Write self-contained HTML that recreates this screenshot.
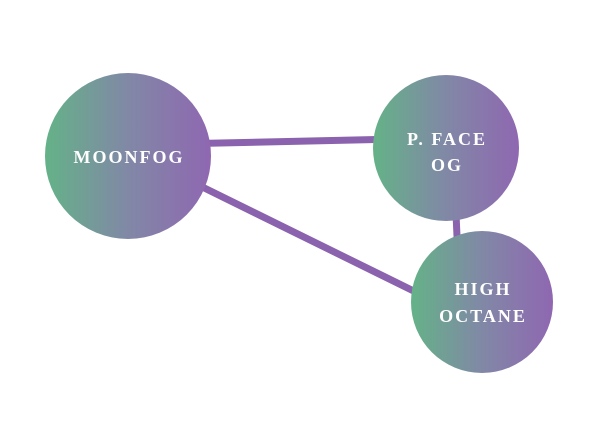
<!DOCTYPE html>
<html><head><style>html,body{margin:0;padding:0;background:#fff}svg{display:block}
text{font-family:"Liberation Serif",serif;font-weight:bold;fill:#fff;font-size:18px;letter-spacing:2px}</style></head>
<body>
<svg width="608" height="428" viewBox="0 0 608 428">
<defs><linearGradient id="g" x1="0" x2="1" y1="0" y2="0"><stop offset="0" stop-color="#64b288"/><stop offset="0.5" stop-color="#8188a6"/><stop offset="1" stop-color="#8f67b1"/></linearGradient></defs>
<g stroke="#8a62ad" stroke-width="7" stroke-linecap="butt">
<line x1="128" y1="145" x2="446" y2="138"/>
<line x1="180" y1="176" x2="440" y2="304"/>
<line x1="453" y1="148" x2="460" y2="302"/>
</g>
<circle cx="128" cy="156" r="83" fill="url(#g)"/>
<circle cx="446" cy="148" r="73" fill="url(#g)"/>
<circle cx="482" cy="302" r="71" fill="url(#g)"/>
<text x="129" y="163" text-anchor="middle">MOONFOG</text>
<text x="447" y="145" text-anchor="middle">P. FACE</text>
<text x="447" y="171" text-anchor="middle">OG</text>
<text x="483" y="295" text-anchor="middle">HIGH</text>
<text x="483" y="322" text-anchor="middle">OCTANE</text>
</svg>
</body></html>
